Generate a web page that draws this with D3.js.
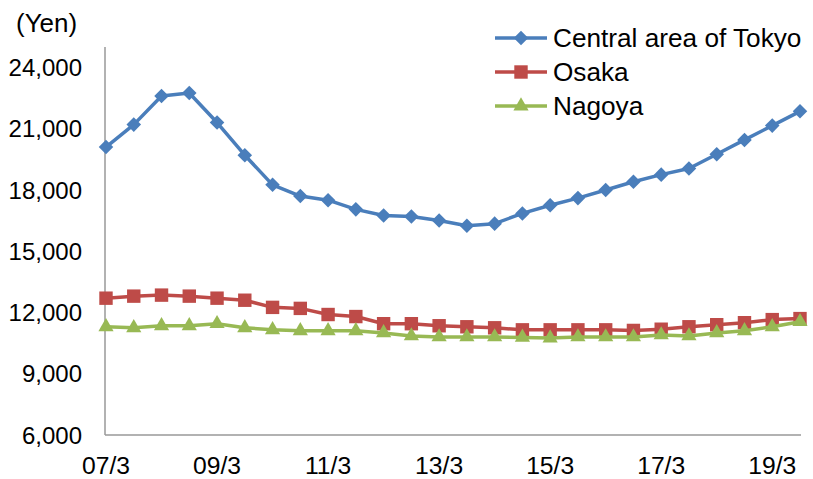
<!DOCTYPE html>
<html>
<head>
<meta charset="utf-8">
<script src="https://cdn.jsdelivr.net/npm/d3@7"></script>
<style>
  html, body { margin: 0; padding: 0; background: #fff; }
  svg { display: block; font-family: "Liberation Sans", Arial, sans-serif; }
</style>
</head>
<body>
<svg id="chart" width="813" height="479"></svg>
<script>
const periods = ["07/3","07/9","08/3","08/9","09/3","09/9","10/3","10/9","11/3","11/9","12/3","12/9","13/3","13/9","14/3","14/9","15/3","15/9","16/3","16/9","17/3","17/9","18/3","18/9","19/3","19/9"];
const tickLabels = ["07/3","09/3","11/3","13/3","15/3","17/3","19/3"];
const yTicks = [6000, 9000, 12000, 15000, 18000, 21000, 24000];
const seriesNames = ["Central area of Tokyo", "Osaka", "Nagoya"];
const tokyo = [20100,21200,22600,22750,21300,19700,18250,17700,17500,17050,16750,16700,16500,16250,16350,16850,17250,17600,18000,18400,18750,19050,19750,20450,21150,21850];
const osaka = [12700,12800,12850,12800,12700,12600,12250,12200,11900,11800,11450,11450,11350,11300,11250,11150,11150,11150,11150,11120,11180,11300,11400,11500,11650,11700];
const nagoya = [11300,11250,11350,11350,11450,11250,11150,11100,11100,11100,11000,10850,10800,10800,10800,10780,10750,10800,10800,10800,10900,10850,11000,11100,11300,11550];

const svg = d3.select("#chart");
const x = d3.scalePoint().domain(periods).range([106, 800]);
const y = d3.scaleLinear().domain([6000, 25000]).range([435, 47]);

const colors = ["#4A7EBB", "#BE4B48", "#98B954"];
const symbols = [
  {type: d3.symbolSquare, size: 106, rotate: 45},
  {type: d3.symbolSquare, size: 180, rotate: 0},
  {type: d3.symbolTriangle, size: 100, rotate: 0}
];
const data = [tokyo, osaka, nagoya];

// axes
const axisColor = "#999";
svg.append("line").attr("x1", 105).attr("x2", 105).attr("y1", y.range()[1]).attr("y2", y(6000))
  .attr("stroke", axisColor).attr("stroke-width", 1.5);
svg.append("line").attr("x1", 105).attr("x2", 801).attr("y1", y(6000)).attr("y2", y(6000))
  .attr("stroke", axisColor).attr("stroke-width", 1.5);

const fmt = d3.format(",");
svg.append("g").selectAll("text").data(yTicks).join("text")
  .attr("x", 82).attr("y", d => y(d)).attr("dy", "0.36em")
  .attr("text-anchor", "end").attr("font-size", 24).attr("fill", "#000")
  .text(d => fmt(d));

svg.append("g").selectAll("text").data(tickLabels).join("text")
  .attr("x", d => x(d)).attr("y", 474)
  .attr("text-anchor", "middle").attr("font-size", 24.7).attr("fill", "#000")
  .text(d => d);

svg.append("text").attr("x", 16).attr("y", 32).attr("font-size", 26).attr("fill", "#000").text("(Yen)");

// series
const line = d3.line().x((d, i) => x(periods[i])).y(d => y(d));
data.forEach((vals, k) => {
  const g = svg.append("g");
  g.append("path").datum(vals).attr("d", line).attr("fill", "none")
    .attr("stroke", colors[k]).attr("stroke-width", 3.5).attr("stroke-linejoin", "round");
  const sym = d3.symbol().type(symbols[k].type).size(symbols[k].size);
  g.selectAll("path.m").data(vals).join("path").attr("class", "m")
    .attr("d", sym)
    .attr("transform", (d, i) => `translate(${x(periods[i])},${y(d)}) rotate(${symbols[k].rotate})`)
    .attr("fill", colors[k]);
});

// legend
const legY = [38, 72, 106];
seriesNames.forEach((name, k) => {
  const g = svg.append("g");
  g.append("line").attr("x1", 495).attr("x2", 547).attr("y1", legY[k]).attr("y2", legY[k])
    .attr("stroke", colors[k]).attr("stroke-width", 3.5);
  const sym = d3.symbol().type(symbols[k].type).size(symbols[k].size);
  g.append("path").attr("d", sym)
    .attr("transform", `translate(521,${legY[k]}) rotate(${symbols[k].rotate})`)
    .attr("fill", colors[k]);
  g.append("text").attr("x", 553).attr("y", legY[k]).attr("dy", "0.36em")
    .attr("font-size", 26.2).attr("fill", "#000").text(name);
});
</script>
</body>
</html>
